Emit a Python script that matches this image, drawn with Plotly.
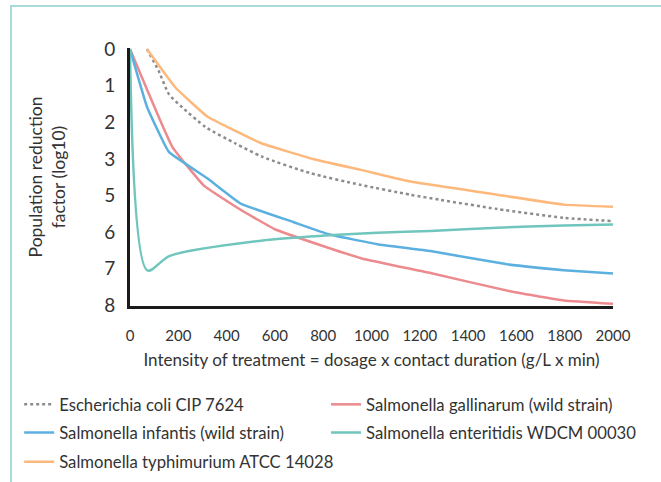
import plotly.graph_objects as go

# Y positions are axis slots (0..7); the chart labels them 0,1,2,3,5,6,7,8
y_tickvals = [0, 1, 2, 3, 4, 5, 6, 7]
y_ticktext = ["0", "1", "2", "3", "5", "6", "7", "8"]
x_tickvals = [0, 200, 400, 600, 800, 1000, 1200, 1400, 1600, 1800, 2000]

ecoli_x = [70, 119, 161, 216, 313, 437, 547, 747, 955, 1162, 1286, 1521, 1796, 2000]
ecoli_y = [0.0, 0.60, 1.23, 1.59, 2.13, 2.58, 2.94, 3.39, 3.71, 3.98, 4.12, 4.37, 4.61, 4.70]

gallinarum_x = [0, 175, 306, 458, 602, 817, 960, 1244, 1589, 1796, 2000]
gallinarum_y = [0.0, 2.67, 3.73, 4.39, 4.93, 5.42, 5.72, 6.12, 6.64, 6.87, 6.96]

infantis_x = [0, 71, 161, 320, 458, 678, 823, 1024, 1244, 1562, 1796, 2000]
infantis_y = [0.0, 1.59, 2.81, 3.53, 4.22, 4.73, 5.06, 5.33, 5.52, 5.88, 6.04, 6.13]

enteritidis_x = [0, 72, 165, 561, 823, 1024, 1244, 1521, 1796, 2000]
enteritidis_y = [0.0, 6.05, 5.65, 5.22, 5.09, 5.02, 4.97, 4.88, 4.82, 4.79]

typhimurium_x = [70, 188, 320, 547, 761, 955, 1162, 1521, 1796, 2000]
typhimurium_y = [0.0, 1.05, 1.84, 2.58, 3.01, 3.30, 3.62, 3.98, 4.25, 4.31]

FONT = "Lato"
TXT = "#333333"

fig = go.Figure()
fig.add_trace(go.Scatter(x=ecoli_x, y=ecoli_y, mode="lines", name="Escherichia coli CIP 7624",
                         legend="legend",
                         line=dict(color="#8c8c8c", width=2.5, dash="dot", shape="spline", smoothing=0.6)))
fig.add_trace(go.Scatter(x=gallinarum_x, y=gallinarum_y, mode="lines", name="Salmonella gallinarum (wild strain)",
                         legend="legend2",
                         line=dict(color="#ec8a8e", width=2.5, shape="spline", smoothing=0.3)))
fig.add_trace(go.Scatter(x=infantis_x, y=infantis_y, mode="lines", name="Salmonella infantis (wild strain)",
                         legend="legend3",
                         line=dict(color="#5cb0e0", width=2.5, shape="spline", smoothing=0.3)))
fig.add_trace(go.Scatter(x=enteritidis_x, y=enteritidis_y, mode="lines", name="Salmonella enteritidis WDCM 00030",
                         legend="legend4",
                         line=dict(color="#70c6bd", width=2.5, shape="spline", smoothing=0.8)))
fig.add_trace(go.Scatter(x=typhimurium_x, y=typhimurium_y, mode="lines", name="Salmonella typhimurium ATCC 14028",
                         legend="legend5",
                         line=dict(color="#fdb87c", width=2.5, shape="spline", smoothing=0.3)))

# page frame (light teal top and left border)
fig.add_shape(type="rect", xref="paper", yref="paper",
              x0=-0.2464, x1=1.2, y0=-0.8, y1=1.1628,
              line=dict(color="#a9dcd8", width=2), fillcolor="rgba(0,0,0,0)", layer="below")

COL1, COL2 = 0.029, 0.4932
ROW1, ROW2, ROW3 = 0.1608, 0.1023, 0.0415

def legend_item(x, y):
    return dict(orientation="h", xref="container", x=x, xanchor="left",
                yref="container", y=y, yanchor="middle",
                font=dict(family=FONT, size=16.7, color=TXT),
                bgcolor="rgba(0,0,0,0)", itemwidth=30)

fig.update_layout(
    width=661, height=482,
    margin=dict(l=130, r=48, t=48, b=176, autoexpand=False),
    paper_bgcolor="white", plot_bgcolor="white",
    font=dict(family=FONT, color=TXT),
    showlegend=True,
    legend=legend_item(COL1, ROW1),
    legend2=legend_item(COL2, ROW1),
    legend3=legend_item(COL1, ROW2),
    legend4=legend_item(COL2, ROW2),
    legend5=legend_item(COL1, ROW3),
    xaxis=dict(range=[0, 2000], tickvals=x_tickvals, showgrid=False, zeroline=False,
               showline=True, linecolor="#1a1a1a", linewidth=3, ticks="",
               tickfont=dict(family=FONT, size=15, color=TXT), ticklabelstandoff=14,
               title=dict(text="Intensity of treatment = dosage x contact duration (g/L x min)",
                          font=dict(family=FONT, size=17, color=TXT), standoff=12)),
    yaxis=dict(range=[7.02, -0.03], tickvals=y_tickvals, ticktext=y_ticktext,
               showgrid=False, zeroline=False,
               showline=True, linecolor="#1a1a1a", linewidth=3, ticks="",
               tickfont=dict(family=FONT, size=19, color=TXT), ticklabelstandoff=8,
               title=dict(text="Population reduction<br>factor (log10)",
                          font=dict(family=FONT, size=17.5, color=TXT), standoff=35)),
)

fig.write_html("out.html", config={"displayModeBar": False},
               post_script="document.body.style.margin='0';")
